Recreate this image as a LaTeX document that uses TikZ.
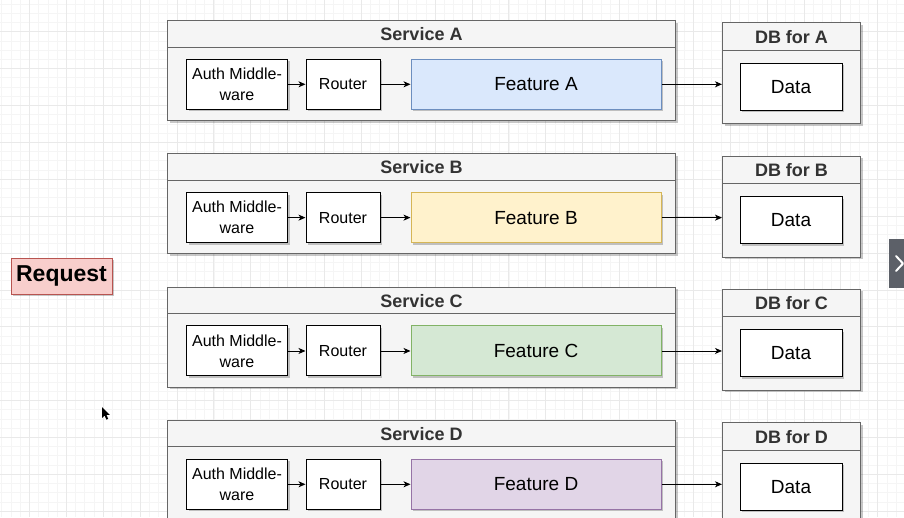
\documentclass[tikz,border=0pt]{standalone}
\usepackage{fontspec}
\setmainfont{Liberation Sans}
\usetikzlibrary{arrows.meta,shadows}

\definecolor{gridminor}{HTML}{F5F5F5}
\definecolor{gridmajor}{HTML}{E9E9E9}
\definecolor{boxgray}{HTML}{666666}
\definecolor{boxfill}{HTML}{F5F5F5}
\definecolor{titlegray}{HTML}{333333}
\definecolor{featfillA}{HTML}{DAE8FC}\definecolor{featlineA}{HTML}{6C8EBF}
\definecolor{featfillB}{HTML}{FFF2CC}\definecolor{featlineB}{HTML}{D6B656}
\definecolor{featfillC}{HTML}{D5E8D4}\definecolor{featlineC}{HTML}{82B366}
\definecolor{featfillD}{HTML}{E1D5E7}\definecolor{featlineD}{HTML}{9673A6}
\definecolor{reqfill}{HTML}{F8CECC}\definecolor{reqline}{HTML}{B85450}
\definecolor{navgray}{HTML}{5C6068}

\tikzset{
  softshadow/.style={drop shadow={shadow xshift=2pt,shadow yshift=-2pt,opacity=0.22,fill=black}},
  panel/.style={rectangle, draw=boxgray, fill=boxfill, line width=1pt, softshadow, inner sep=0pt},
  stepbox/.style={rectangle, draw=black, fill=white, line width=1pt, softshadow, inner sep=0pt,
    minimum height=50pt, align=center, font=\fontsize{16}{21}\selectfont},
  featurebox/.style={stepbox, minimum width=250pt, font=\fontsize{19}{22}\selectfont},
  databox/.style={stepbox, minimum width=102pt, minimum height=47pt, font=\fontsize{19}{22}\selectfont},
  panetitle/.style={font=\bfseries\fontsize{18}{22}\selectfont, text=titlegray},
  arr/.style={-{Stealth[length=7pt,width=6pt,inset=2pt]}, line width=0.9pt},
}

\begin{document}
\begin{tikzpicture}[x=1pt,y=-1pt]
  \useasboundingbox (0,0) rectangle (904,517);
  \clip (0,0) rectangle (904,517);
  \fill[white] (0,0) rectangle (904,517);

  % background grid: minor lines every 9.22, major every fourth
  \foreach \k in {0,...,98} {
    \pgfmathsetmacro\gx{1.84+9.22*\k}
    \draw[gridminor, line width=0.8pt] (\gx,0) -- (\gx,517);
  }
  \foreach \k in {0,...,57} {
    \pgfmathsetmacro\gy{4.1+9.22*\k}
    \draw[gridminor, line width=0.8pt] (0,\gy) -- (904,\gy);
  }
  \foreach \k in {0,...,24} {
    \pgfmathsetmacro\gx{29.5+36.88*\k}
    \draw[gridmajor, line width=0.9pt] (\gx,0) -- (\gx,517);
  }
  \foreach \k in {0,...,14} {
    \pgfmathsetmacro\gy{31.8+36.88*\k}
    \draw[gridmajor, line width=0.9pt] (0,\gy) -- (904,\gy);
  }

  % incoming request
  \node[rectangle, draw=reqline, fill=reqfill, line width=1pt, softshadow,
        minimum width=101pt, minimum height=36pt, inner sep=0pt,
        font=\bfseries\fontsize{23}{26}\selectfont] (request) at (61.5,276) {Request};

  % one row per service: container, pipeline, and its database
  \foreach \L [count=\i from 0] in {A,B,C,D} {
    \pgfmathsetmacro\t{20+133.33*\i}
    \node[panel, minimum width=508pt, minimum height=100pt, anchor=north west] (svc\L) at (167,\t) {};
    \draw[boxgray, line width=1pt] ([yshift=-27pt]svc\L.north west) -- ([yshift=-27pt]svc\L.north east);
    \node[panetitle] (svctitle\L) at ([yshift=-14pt]svc\L.north) {Service \L};

    \node[stepbox, minimum width=101pt] (auth\L) at (237,\t+64.3) {Auth Middle-\\ware};
    \node[stepbox, minimum width=74pt] (router\L) at (343,\t+64.3) {Router};
    \node[featurebox, fill=featfill\L, draw=featline\L] (feat\L) at (536,\t+64.3) {Feature \L};

    \node[panel, minimum width=138pt, minimum height=101pt, anchor=north west] (db\L) at (722,\t+2.3) {};
    \draw[boxgray, line width=1pt] ([yshift=-28pt]db\L.north west) -- ([yshift=-28pt]db\L.north east);
    \node[panetitle] (dbtitle\L) at ([yshift=-14.5pt]db\L.north) {DB for \L};
    \node[databox] (data\L) at (791,\t+66.7) {Data};

    \draw[arr] (auth\L) -- (router\L);
    \draw[arr] (router\L) -- (feat\L);
    \draw[arr] (feat\L) -- (feat\L -| db\L.west);
  }

  % pointer
  \fill[black] (102,407) -- (102,418) -- (104.6,415.6) -- (106.4,419.6) -- (108.2,418.8)
    -- (106.4,414.9) -- (109.8,414.9) -- cycle;

  % side navigation tab
  \fill[navgray] (889,239) rectangle (906,288);
  \draw[white, line width=2pt, line cap=round, line join=round] (896,256) -- (903,263.5) -- (896,271);
\end{tikzpicture}
\end{document}
